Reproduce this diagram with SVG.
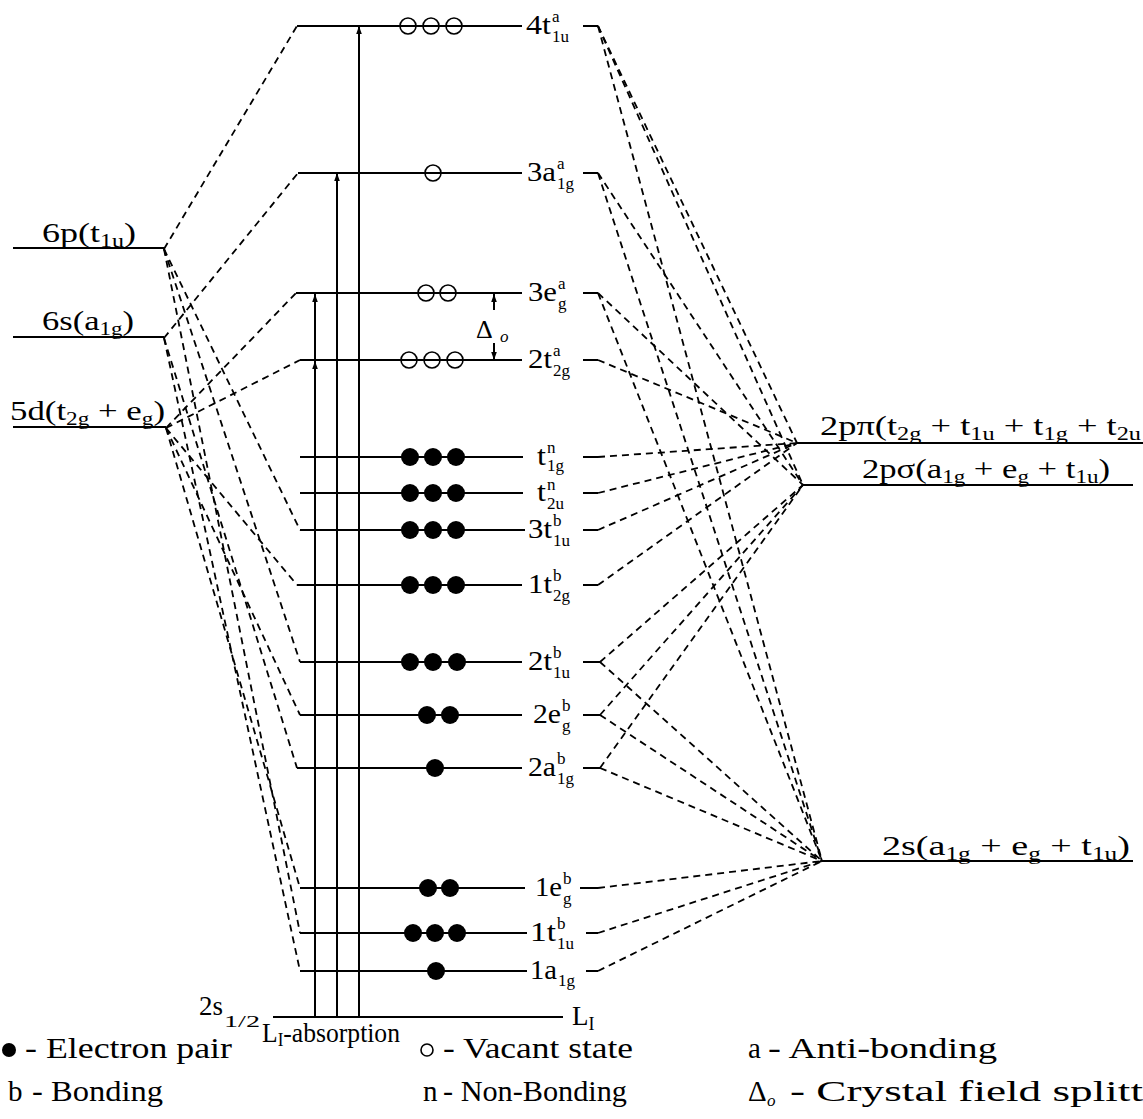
<svg xmlns="http://www.w3.org/2000/svg" width="1143" height="1119" viewBox="0 0 1143 1119">
<defs>
<style>
.lv{stroke:#000;stroke-width:2;fill:none}
.cn{stroke:#000;stroke-width:1.8;fill:none;stroke-dasharray:7 5}
.ar{stroke:#000;stroke-width:2;fill:none}
.t{font-family:"Liberation Serif","DejaVu Serif",serif;font-size:27px;fill:#000}
.s{font-size:18px}
.ss{font-family:"Liberation Serif","DejaVu Serif",serif;font-size:17px;fill:#000}
.lg{font-size:29px}
.ep{fill:#000}
.vs{fill:none;stroke:#000;stroke-width:1.6}
</style>
<marker id="ah" viewBox="0 0 10 10" refX="10" refY="5" markerUnits="userSpaceOnUse" markerWidth="9" markerHeight="8" orient="auto"><path d="M0,1.5 L10,5 L0,8.5 Z" fill="#000"/></marker>
</defs>
<rect width="1143" height="1119" fill="#fff"/>

<!-- correlation lines between atomic, molecular and ligand levels -->
<g id="connectors">
  <!-- 6p -> t1u -->
  <path class="cn" d="M164,249L297,26"/>
  <path class="cn" d="M164,249L300,530"/>
  <path class="cn" d="M164,249L300,662"/>
  <path class="cn" d="M164,249L300,933"/>
  <!-- 6s -> a1g -->
  <path class="cn" d="M164,338L298,173"/>
  <path class="cn" d="M164,338L297,768"/>
  <path class="cn" d="M164,338L300,971"/>
  <!-- 5d -> t2g, eg -->
  <path class="cn" d="M166,428L296,293"/>
  <path class="cn" d="M166,428L300,360"/>
  <path class="cn" d="M166,428L297,585"/>
  <path class="cn" d="M166,428L300,715"/>
  <path class="cn" d="M166,428L300,888"/>
  <!-- ligand side -->
  <path class="cn" d="M598,26L797,443"/>
  <path class="cn" d="M598,26L803,485"/>
  <path class="cn" d="M598,26L822,861"/>
  <path class="cn" d="M598,173L803,485"/>
  <path class="cn" d="M598,173L822,861"/>
  <path class="cn" d="M598,293L803,485"/>
  <path class="cn" d="M598,293L822,861"/>
  <path class="cn" d="M598,360L797,443"/>
  <path class="cn" d="M598,457L797,443"/>
  <path class="cn" d="M598,493L797,443"/>
  <path class="cn" d="M598,530L797,443"/>
  <path class="cn" d="M598,585L797,443"/>
  <path class="cn" d="M600,662L803,485"/>
  <path class="cn" d="M600,662L822,861"/>
  <path class="cn" d="M600,715L803,485"/>
  <path class="cn" d="M600,715L822,861"/>
  <path class="cn" d="M600,768L803,485"/>
  <path class="cn" d="M600,768L822,861"/>
  <path class="cn" d="M598,888L822,861"/>
  <path class="cn" d="M598,933L822,861"/>
  <path class="cn" d="M598,971L822,861"/>
</g>

<!-- metal atomic levels -->
<g id="m-6p">
  <path class="lv" d="M13,248H164"/>
  <text class="t" x="42" y="242" textLength="94" lengthAdjust="spacingAndGlyphs">6p(t<tspan class="s" dy="5">1u</tspan><tspan dy="-5">)</tspan></text>
</g>
<g id="m-6s">
  <path class="lv" d="M13,337H164"/>
  <text class="t" x="42" y="330" textLength="92" lengthAdjust="spacingAndGlyphs">6s(a<tspan class="s" dy="5">1g</tspan><tspan dy="-5">)</tspan></text>
</g>
<g id="m-5d">
  <path class="lv" d="M13,427H166"/>
  <text class="t" x="10" y="420" textLength="155" lengthAdjust="spacingAndGlyphs">5d(t<tspan class="s" dy="5">2g</tspan><tspan dy="-5"> + e</tspan><tspan class="s" dy="5">g</tspan><tspan dy="-5">)</tspan></text>
</g>

<!-- ligand levels -->
<g id="l-2ppi">
  <path class="lv" d="M797,443H1143"/>
  <text class="t" x="820" y="435" textLength="321" lengthAdjust="spacingAndGlyphs">2pπ(t<tspan class="s" dy="5">2g</tspan><tspan dy="-5"> + t</tspan><tspan class="s" dy="5">1u</tspan><tspan dy="-5"> + t</tspan><tspan class="s" dy="5">1g</tspan><tspan dy="-5"> + t</tspan><tspan class="s" dy="5">2u</tspan></text>
</g>
<g id="l-2psigma">
  <path class="lv" d="M803,485H1133"/>
  <text class="t" x="862" y="478" textLength="248" lengthAdjust="spacingAndGlyphs">2pσ(a<tspan class="s" dy="5">1g</tspan><tspan dy="-5"> + e</tspan><tspan class="s" dy="5">g</tspan><tspan dy="-5"> + t</tspan><tspan class="s" dy="5">1u</tspan><tspan dy="-5">)</tspan></text>
</g>
<g id="l-2s">
  <path class="lv" d="M822,861H1133"/>
  <text class="t" x="882" y="855" textLength="248" lengthAdjust="spacingAndGlyphs">2s(a<tspan class="s" dy="5">1g</tspan><tspan dy="-5"> + e</tspan><tspan class="s" dy="5">g</tspan><tspan dy="-5"> + t</tspan><tspan class="s" dy="5">1u</tspan><tspan dy="-5">)</tspan></text>
</g>

<!-- molecular orbitals: level line, occupancy, label with stacked indices -->
<g id="mo-4t1u">
  <path class="lv" d="M297,26H522M583,26H598"/>
  <circle class="vs" cx="408" cy="26" r="8"/><circle class="vs" cx="431" cy="26" r="8"/><circle class="vs" cx="454" cy="26" r="8"/>
  <text class="t" x="526" y="34" textLength="25" lengthAdjust="spacingAndGlyphs">4t</text>
  <text class="ss" x="552" y="22">a</text><text class="ss" x="552" y="42">1u</text>
</g>
<g id="mo-3a1g">
  <path class="lv" d="M298,173H522M583,173H598"/>
  <circle class="vs" cx="433" cy="173" r="8"/>
  <text class="t" x="527" y="181" textLength="29" lengthAdjust="spacingAndGlyphs">3a</text>
  <text class="ss" x="557" y="169">a</text><text class="ss" x="557" y="189">1g</text>
</g>
<g id="mo-3eg">
  <path class="lv" d="M296,293H522M583,293H598"/>
  <circle class="vs" cx="426" cy="293" r="8"/><circle class="vs" cx="448" cy="293" r="8"/>
  <text class="t" x="528" y="301" textLength="29" lengthAdjust="spacingAndGlyphs">3e</text>
  <text class="ss" x="558" y="289">a</text><text class="ss" x="558" y="309">g</text>
</g>
<g id="mo-2t2g">
  <path class="lv" d="M300,360H522M583,360H598"/>
  <circle class="vs" cx="409" cy="360" r="8"/><circle class="vs" cx="432" cy="360" r="8"/><circle class="vs" cx="455" cy="360" r="8"/>
  <text class="t" x="528" y="368" textLength="24" lengthAdjust="spacingAndGlyphs">2t</text>
  <text class="ss" x="553" y="356">a</text><text class="ss" x="553" y="376">2g</text>
</g>
<g id="mo-t1g">
  <path class="lv" d="M300,457H523M583,457H598"/>
  <circle class="ep" cx="410" cy="457" r="9"/><circle class="ep" cx="433" cy="457" r="9"/><circle class="ep" cx="456" cy="457" r="9"/>
  <text class="t" x="537" y="465" textLength="9" lengthAdjust="spacingAndGlyphs">t</text>
  <text class="ss" x="547" y="453">n</text><text class="ss" x="547" y="471">1g</text>
</g>
<g id="mo-t2u">
  <path class="lv" d="M300,493H523M583,493H598"/>
  <circle class="ep" cx="410" cy="493" r="9"/><circle class="ep" cx="433" cy="493" r="9"/><circle class="ep" cx="456" cy="493" r="9"/>
  <text class="t" x="537" y="501" textLength="9" lengthAdjust="spacingAndGlyphs">t</text>
  <text class="ss" x="547" y="490">n</text><text class="ss" x="547" y="509">2u</text>
</g>
<g id="mo-3t1u">
  <path class="lv" d="M300,530H525M583,530H598"/>
  <circle class="ep" cx="410" cy="530" r="9"/><circle class="ep" cx="433" cy="530" r="9"/><circle class="ep" cx="456" cy="530" r="9"/>
  <text class="t" x="528" y="538" textLength="24" lengthAdjust="spacingAndGlyphs">3t</text>
  <text class="ss" x="553" y="526">b</text><text class="ss" x="553" y="546">1u</text>
</g>
<g id="mo-1t2g">
  <path class="lv" d="M297,585H522M583,585H598"/>
  <circle class="ep" cx="410" cy="585" r="9"/><circle class="ep" cx="433" cy="585" r="9"/><circle class="ep" cx="456" cy="585" r="9"/>
  <text class="t" x="528" y="593" textLength="24" lengthAdjust="spacingAndGlyphs">1t</text>
  <text class="ss" x="553" y="581">b</text><text class="ss" x="553" y="601">2g</text>
</g>
<g id="mo-2t1u">
  <path class="lv" d="M300,662H522M583,662H600"/>
  <circle class="ep" cx="410" cy="662" r="9"/><circle class="ep" cx="433" cy="662" r="9"/><circle class="ep" cx="457" cy="662" r="9"/>
  <text class="t" x="528" y="670" textLength="24" lengthAdjust="spacingAndGlyphs">2t</text>
  <text class="ss" x="553" y="658">b</text><text class="ss" x="553" y="678">1u</text>
</g>
<g id="mo-2eg">
  <path class="lv" d="M300,715H522M583,715H600"/>
  <circle class="ep" cx="427" cy="715" r="9"/><circle class="ep" cx="450" cy="715" r="9"/>
  <text class="t" x="533" y="723" textLength="28" lengthAdjust="spacingAndGlyphs">2e</text>
  <text class="ss" x="562" y="711">b</text><text class="ss" x="562" y="731">g</text>
</g>
<g id="mo-2a1g">
  <path class="lv" d="M297,768H522M583,768H600"/>
  <circle class="ep" cx="435" cy="768" r="9"/>
  <text class="t" x="528" y="776" textLength="28" lengthAdjust="spacingAndGlyphs">2a</text>
  <text class="ss" x="557" y="764">b</text><text class="ss" x="557" y="784">1g</text>
</g>
<g id="mo-1eg">
  <path class="lv" d="M300,888H525M580,888H598"/>
  <circle class="ep" cx="428" cy="888" r="9"/><circle class="ep" cx="450" cy="888" r="9"/>
  <text class="t" x="535" y="896" textLength="27" lengthAdjust="spacingAndGlyphs">1e</text>
  <text class="ss" x="563" y="884">b</text><text class="ss" x="563" y="904">g</text>
</g>
<g id="mo-1t1u">
  <path class="lv" d="M300,933H527M586,933H598"/>
  <circle class="ep" cx="413" cy="933" r="9"/><circle class="ep" cx="435" cy="933" r="9"/><circle class="ep" cx="457" cy="933" r="9"/>
  <text class="t" x="530" y="941" textLength="26" lengthAdjust="spacingAndGlyphs">1t</text>
  <text class="ss" x="557" y="929">b</text><text class="ss" x="557" y="949">1u</text>
</g>
<g id="mo-1a1g">
  <path class="lv" d="M300,971H527M586,971H598"/>
  <circle class="ep" cx="436" cy="971" r="9"/>
  <text class="t" x="530" y="979" textLength="27" lengthAdjust="spacingAndGlyphs">1a</text>
  <text class="ss" x="558" y="986">1g</text>
</g>

<!-- core level and absorption transitions -->
<g id="core-L1">
  <path class="lv" d="M273,1017H563"/>
  <text class="t" x="199" y="1015" textLength="24" lengthAdjust="spacingAndGlyphs">2s</text>
  <text class="ss" x="224" y="1027" textLength="36" lengthAdjust="spacingAndGlyphs">1/2</text>
  <text class="t" x="572" y="1025">L<tspan class="s" dy="5">I</tspan></text>
  <text class="t" x="262" y="1042" textLength="138" lengthAdjust="spacingAndGlyphs">L<tspan class="s" dy="4">I</tspan><tspan dy="-4">-absorption</tspan></text>
</g>
<g id="transitions">
  <path class="ar" d="M315,1017V361" marker-end="url(#ah)"/>
  <path class="ar" d="M315,361V294" marker-end="url(#ah)"/>
  <path class="ar" d="M337,1017V173" marker-end="url(#ah)"/>
  <path class="ar" d="M359,1017V26" marker-end="url(#ah)"/>
</g>

<!-- crystal field splitting -->
<g id="delta-o">
  <path class="ar" d="M494,310V294" marker-end="url(#ah)"/>
  <path class="ar" d="M494,343V360" marker-end="url(#ah)"/>
  <text class="t" x="476" y="338" style="font-size:26px">Δ</text>
  <text class="ss" x="500" y="342" font-style="italic">o</text>
</g>

<!-- key -->
<g id="legend">
  <circle class="ep" cx="9" cy="1050" r="7"/>
  <text class="t lg" x="25" y="1058" textLength="207" lengthAdjust="spacingAndGlyphs">- Electron pair</text>
  <circle class="vs" cx="427" cy="1050" r="6"/>
  <text class="t lg" x="443" y="1058" textLength="190" lengthAdjust="spacingAndGlyphs">- Vacant state</text>
  <text class="t lg" x="748" y="1058">a</text>
  <text class="t lg" x="768" y="1058" textLength="229" lengthAdjust="spacingAndGlyphs">- Anti-bonding</text>
  <text class="t lg" x="8" y="1101">b</text>
  <text class="t lg" x="32" y="1101" textLength="131" lengthAdjust="spacingAndGlyphs">- Bonding</text>
  <text class="t lg" x="423" y="1101">n</text>
  <text class="t lg" x="443" y="1101" textLength="184" lengthAdjust="spacingAndGlyphs">- Non-Bonding</text>
  <text class="t lg" x="748" y="1101">Δ</text>
  <text class="ss" x="767" y="1106" font-style="italic">o</text>
  <text class="t lg" x="790" y="1101" textLength="353" lengthAdjust="spacingAndGlyphs">- Crystal field splitt</text>
</g>
</svg>
